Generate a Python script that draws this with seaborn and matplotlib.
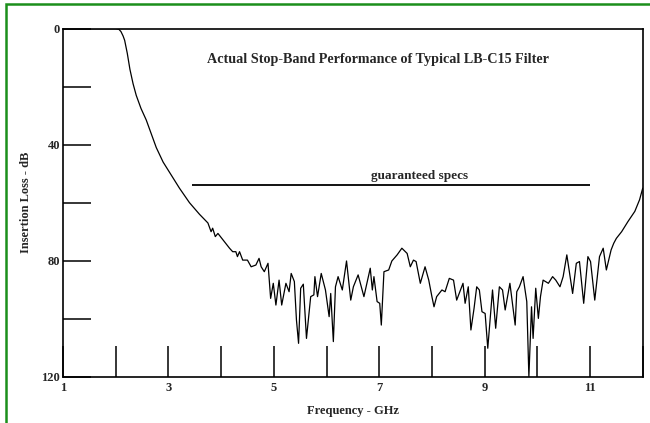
import matplotlib
matplotlib.use("Agg")
import matplotlib.pyplot as plt
import seaborn as sns
from matplotlib.patches import Rectangle
from matplotlib.ticker import MultipleLocator

# Stop-band response (GHz, dB)
freq_ghz = [1.0, 2.0, 2.06, 2.1, 2.14, 2.17, 2.22, 2.27, 2.33, 2.39, 2.48, 2.58,
            2.68, 2.77, 2.9, 3.09, 3.21, 3.4, 3.59, 3.75, 3.81, 3.84, 3.89, 3.94,
            4.06, 4.16, 4.22, 4.28, 4.31, 4.35, 4.41, 4.5, 4.57, 4.66, 4.72, 4.76,
            4.82, 4.89, 4.94, 4.99, 5.04, 5.10, 5.15, 5.23, 5.29, 5.33, 5.39, 5.43,
            5.47, 5.51, 5.56, 5.62, 5.70, 5.76, 5.78, 5.83, 5.90, 5.98, 6.05, 6.08,
            6.13, 6.17, 6.22, 6.30, 6.38, 6.46, 6.51, 6.60, 6.71, 6.83, 6.87, 6.90,
            6.96, 7.01, 7.04, 7.09, 7.18, 7.24, 7.34, 7.43, 7.53, 7.59, 7.65, 7.70,
            7.78, 7.87, 7.94, 8.00, 8.04, 8.09, 8.19, 8.25, 8.33, 8.41, 8.47, 8.59,
            8.63, 8.69, 8.74, 8.80, 8.85, 8.90, 8.95, 9.01, 9.06, 9.15, 9.21, 9.28,
            9.34, 9.39, 9.48, 9.58, 9.61, 9.66, 9.73, 9.80, 9.84, 9.89, 9.92, 9.97,
            10.02, 10.06, 10.11, 10.21, 10.29, 10.35, 10.43, 10.49, 10.56, 10.67,
            10.74, 10.80, 10.88, 10.96, 11.01, 11.09, 11.18, 11.25, 11.31, 11.40,
            11.45, 11.50, 11.60, 11.72, 11.85, 11.94, 12.0]
loss_db = [0, 0, 0.2, 1, 2.5, 4, 8.5, 14, 19, 23, 27.5, 31.5,
           36.5, 41, 46, 51.5, 55, 60, 64, 67, 70, 68.8, 71.7, 70.6,
           73.4, 75.7, 76.9, 76.9, 78.6, 76.9, 79.8, 79.8, 82.1, 81.5, 79.2, 82.1,
           83.8, 80.9, 93, 87.8, 95.3, 86.7, 95.3, 87.8, 90.7, 84.4, 87.2, 100.5,
           108.5, 89.5, 88.1, 106.8, 92.4, 91.8, 85.5, 92.4, 84.4, 90.1, 99.3, 91.3,
           107.9, 89, 85.5, 90.1, 80.1, 93.6, 89, 84.9, 92.4, 82.6, 90.1, 85.5,
           94.1, 94.7, 102.2, 83.8, 83.2, 80.1, 78, 75.7, 77.5, 82.1, 79.8, 80.3,
           87.8, 82.1, 86.7, 92.4, 95.9, 92.4, 90.1, 90.7, 86.1, 86.7, 93.6, 87.8,
           94.7, 89, 103.9, 96.4, 89, 90.1, 97.6, 98.2, 110.2, 90.1, 103.3, 89,
           90.1, 97, 87.8, 102.2, 90.7, 89, 85.5, 94.1, 120, 95.9, 106.8, 89.5,
           99.9, 92.4, 86.7, 87.8, 85.5, 86.7, 89, 85.5, 78, 91.3,
           80.9, 80.3, 94.7, 78.6, 80.3, 93.6, 78.6, 75.7, 83.2, 76.3,
           74, 72.3, 70, 66.5, 63, 59, 55]

# guaranteed spec line
spec_db = 54
spec_start = 3.45
spec_end = 11.0

x_labels = [1, 3, 5, 7, 9, 11]
y_labels = [0, 40, 80, 120]

sns.set_theme(style="white")
plt.rcParams["font.family"] = ["Liberation Serif", "DejaVu Serif"]
plt.rcParams["font.weight"] = "bold"

fig = plt.figure(figsize=(6.5, 4.23), dpi=100)
ax = fig.add_axes([0.0969, 0.1095, 0.8919, 0.8227])

sns.lineplot(x=freq_ghz, y=loss_db, ax=ax, color="black", linewidth=0.9,
             estimator=None, sort=False)

ax.hlines(spec_db, spec_start, spec_end, color="black", linewidth=1.3)
ax.text(7.76, spec_db - 1.0, "guaranteed specs",
        ha="center", va="bottom", fontsize=9.5, fontweight="bold")
ax.text(6.97, 10.5, "Actual Stop-Band Performance of Typical LB-C15 Filter",
        ha="center", va="center", fontsize=10.2, fontweight="bold")

ax.set_xlim(1, 12)
ax.set_ylim(120, 0)
ax.set_xticks(x_labels)
ax.set_yticks(y_labels)
ax.xaxis.set_minor_locator(MultipleLocator(1))
ax.yaxis.set_minor_locator(MultipleLocator(20))
ax.tick_params(bottom=True, left=True, which="both")
ax.tick_params(axis="x", which="both", direction="in", length=22, width=1.1,
               color="black", labelsize=9, pad=4)
ax.tick_params(axis="y", which="both", direction="in", length=20, width=1.1,
               color="black", labelsize=9, pad=2)
for lab in ax.get_xticklabels() + ax.get_yticklabels():
    lab.set_fontweight("bold")

ax.set_xlabel("Frequency - GHz", fontsize=9, fontweight="bold", labelpad=8)
ax.set_ylabel("Insertion Loss - dB", fontsize=9, fontweight="bold", labelpad=7)

for side in ax.spines.values():
    side.set_color("black")
    side.set_linewidth(1.2)

# green frame (only top and left edges fall inside the image)
fig.patches.append(Rectangle((0.0092, -0.5), 1.5, 1.4905, transform=fig.transFigure,
                             fill=False, edgecolor="#1b8f1b", linewidth=1.8))

fig.savefig("out.png", dpi=100)
